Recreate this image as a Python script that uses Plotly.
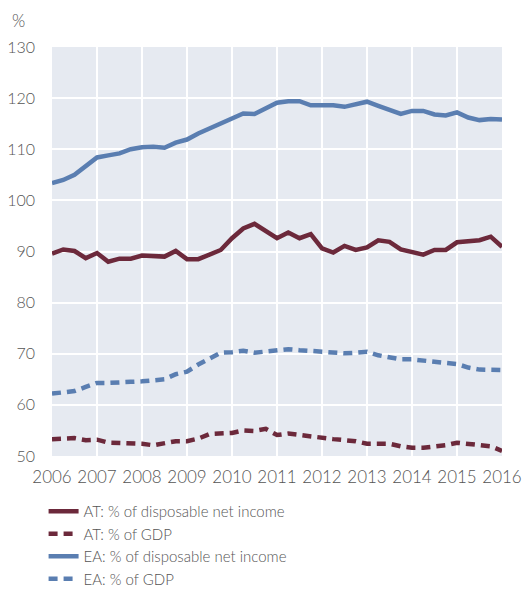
import plotly.graph_objects as go

# Quarterly observations, 2006 Q1 ... 2016 Q1 (plotted at year + quarter/4)
years = [2006 + q / 4 for q in range(41)]

at_income = [89.6, 90.4, 90.1, 88.7, 89.7, 88.0, 88.6, 88.6, 89.2, 89.1,
             89.0, 90.1, 88.5, 88.5, 89.4, 90.3, 92.6, 94.5, 95.4, 94.1,
             92.6, 93.7, 92.6, 93.4, 90.6, 89.8, 91.1, 90.3, 90.8, 92.2,
             91.9, 90.4, 89.9, 89.4, 90.3, 90.3, 91.8, 92.0, 92.2, 92.9,
             90.9]
at_gdp = [53.3, 53.4, 53.5, 53.1, 53.2, 52.6, 52.6, 52.4, 52.4, 52.1,
          52.4, 52.9, 52.9, 53.4, 54.3, 54.4, 54.5, 55.0, 54.9, 55.3,
          54.1, 54.4, 54.1, 53.7, 53.4, 53.3, 53.1, 52.9, 52.4, 52.3,
          52.4, 51.9, 51.6, 51.6, 51.8, 52.1, 52.6, 52.4, 52.3, 51.9,
          51.0]
ea_income = [103.4, 104.0, 105.0, 106.6, 108.4, 108.8, 109.2, 110.0, 110.4, 110.5,
             110.3, 111.3, 111.9, 113.1, 114.1, 115.2, 116.0, 117.0, 116.9, 118.0,
             119.1, 119.4, 119.4, 118.6, 118.6, 118.6, 118.3, 118.8, 119.3, 118.5,
             117.7, 116.9, 117.5, 117.5, 116.8, 116.6, 117.2, 116.2, 115.7, 115.9,
             115.8]
ea_gdp = [62.2, 62.4, 62.7, 63.5, 64.3, 64.3, 64.3, 64.5, 64.6, 64.8,
          65.0, 66.0, 66.5, 67.9, 69.1, 70.2, 70.3, 70.6, 70.2, 70.4,
          70.8, 70.9, 70.7, 70.5, 70.4, 70.3, 70.1, 70.2, 70.4, 69.7,
          69.2, 68.9, 68.9, 68.6, 68.3, 68.2, 68.0, 67.3, 66.9, 66.9,
          66.8]

series_names = ["AT: % of disposable net income", "AT: % of GDP",
                "EA: % of disposable net income", "EA: % of GDP"]
tick_years = list(range(2006, 2017))
y_ticks = [50, 60, 70, 80, 90, 100, 110, 120, 130]

MAROON = "#6c293b"
BLUE = "#5a7eb1"
FONT = "Lato"
TXT = "#555555"

fig = go.Figure()
specs = [
    (at_income, series_names[0], MAROON, "solid"),
    (at_gdp, series_names[1], MAROON, "9px,6px"),
    (ea_income, series_names[2], BLUE, "solid"),
    (ea_gdp, series_names[3], BLUE, "9px,6px"),
]
for vals, name, col, dash in specs:
    fig.add_trace(go.Scatter(
        x=years, y=vals, name=name, mode="lines",
        line=dict(color=col, width=4.5, dash=dash),
    ))

fig.update_layout(
    width=525, height=589,
    margin=dict(l=52, r=23, t=47, b=133, autoexpand=False),
    paper_bgcolor="white",
    plot_bgcolor="#e6eaf1",
    font=dict(family=FONT, size=16, color=TXT),
    showlegend=True,
    legend=dict(
        orientation="v", x=-0.0187, xanchor="left", y=-0.0954, yanchor="top",
        font=dict(family=FONT, size=15, color=TXT, weight=300),
        bgcolor="rgba(0,0,0,0)", tracegroupgap=0, itemwidth=30,
    ),
    xaxis=dict(
        range=[2006, 2016], tickmode="array", tickvals=tick_years,
        ticktext=[str(t) for t in tick_years],
        showgrid=True, gridcolor="white", gridwidth=2,
        zeroline=False, showline=False, ticks="", automargin=False,
        ticklabelstandoff=9,
        tickfont=dict(family=FONT, size=17, color=TXT, weight=300),
    ),
    yaxis=dict(
        range=[50, 130], tickmode="array", tickvals=y_ticks,
        showgrid=True, gridcolor="white", gridwidth=2,
        zeroline=False, showline=False, ticks="", automargin=False,
        ticklabelstandoff=16,
        tickfont=dict(family=FONT, size=16, color=TXT, weight=300),
    ),
    annotations=[dict(
        text="%", xref="paper", yref="paper", x=-0.093, y=1.066,
        xanchor="left", yanchor="middle", showarrow=False,
        font=dict(family=FONT, size=17, color=TXT, weight=300),
    )],
)

# remove the default 8px page margin so the 525x589 figure fills the window
fig.write_html("out.html", config={"displayModeBar": False},
               post_script="document.body.style.margin='0';")
